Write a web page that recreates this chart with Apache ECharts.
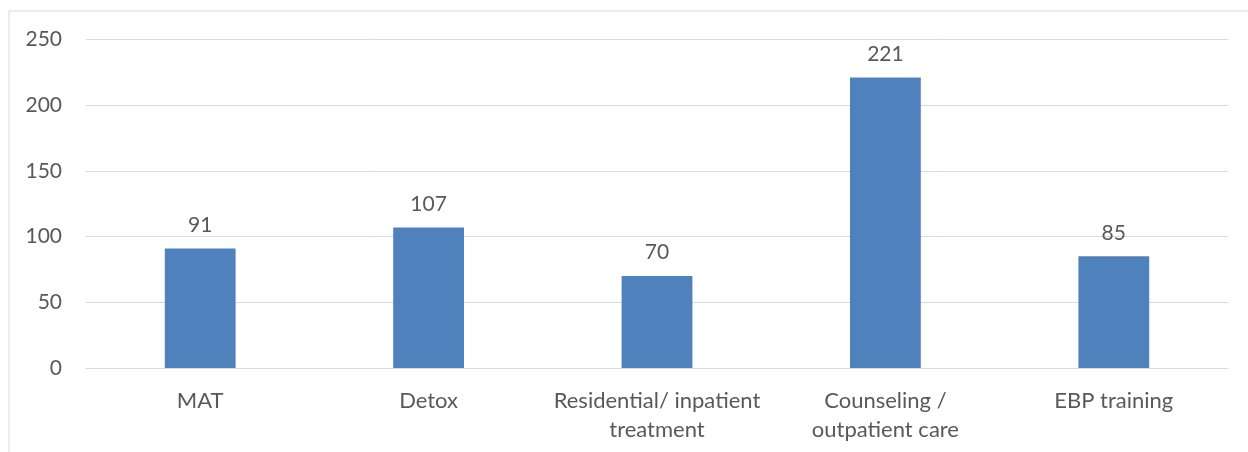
<!DOCTYPE html>
<html>
<head>
<meta charset="utf-8">
<script src="https://cdn.jsdelivr.net/npm/echarts@6/dist/echarts.min.js"></script>
<style>
    html, body { margin: 0; padding: 0; background: #ffffff; }
    #main { width: 1248px; height: 452px; }
</style>
</head>
<body>
<div id="main"></div>
<script>
    // data
    var categories = ['MAT', 'Detox', 'Residential/ inpatient\ntreatment', 'Counseling /\noutpatient care', 'EBP training'];
    var counts = [91, 107, 70, 221, 85];

    var chart = echarts.init(document.getElementById('main'));
    var font = 'Lato, "Open Sans", sans-serif';

    var option = {
        animation: false,
        backgroundColor: '#ffffff',
        graphic: [{
            type: 'rect',
            shape: { x: 9, y: 11, width: 1260, height: 460 },
            style: { fill: 'none', stroke: '#d9d9d9', lineWidth: 1 },
            silent: true
        }],
        grid: {
            left: 86,
            right: 20,
            top: 39.5,
            bottom: 84
        },
        xAxis: {
            type: 'category',
            data: categories,
            axisTick: { show: false },
            axisLine: { lineStyle: { color: '#d9d9d9', width: 1 } },
            axisLabel: {
                color: '#595959',
                fontFamily: font,
                fontSize: 22,
                lineHeight: 29,
                margin: 18,
                interval: 0
            }
        },
        yAxis: {
            type: 'value',
            min: 0,
            max: 250,
            interval: 50,
            axisLine: { show: false },
            axisTick: { show: false },
            axisLabel: {
                color: '#595959',
                fontFamily: font,
                fontSize: 21,
                margin: 24
            },
            splitLine: { lineStyle: { color: '#d9d9d9', width: 1 } }
        },
        series: [{
            type: 'bar',
            data: counts,
            barWidth: '31%',
            itemStyle: { color: '#4f81bd' },
            label: {
                show: true,
                position: 'top',
                distance: 13,
                color: '#595959',
                fontFamily: font,
                fontSize: 21
            }
        }]
    };

    chart.setOption(option);
</script>
</body>
</html>
